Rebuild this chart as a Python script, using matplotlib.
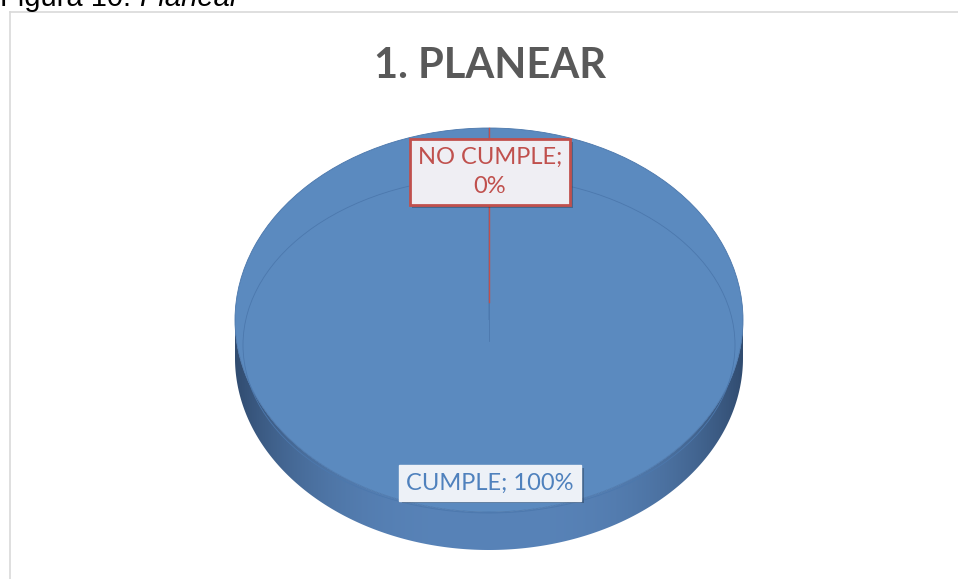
import numpy as np
import matplotlib
matplotlib.use("Agg")
import matplotlib.pyplot as plt
from matplotlib.patches import Ellipse, Polygon
import matplotlib.patheffects as pe

# Chart data
labels = ["CUMPLE", "NO CUMPLE"]
values = [100, 0]
title = "1. PLANEAR"
caption_plain = "Figura 10: "
caption_italic = "Planear"

# Colours
top_color = "#5B8ABF"
slice_colors = [top_color, "#C0504D"]
label_text_colors = ["#4F81BD", "#C0504D"]

W, H = 958, 579
fig = plt.figure(figsize=(W / 100, H / 100), dpi=100)

# Outer frame of the chart area (only top and left edges visible in the crop)
fig.add_artist(plt.Line2D([10 / W, 1], [1 - 12 / H, 1 - 12 / H], color="#d9d9d9", lw=1.2))
fig.add_artist(plt.Line2D([10 / W, 10 / W], [0, 1 - 12 / H], color="#d9d9d9", lw=1.2))

# Caption above the chart (cut off at the top, as in the source)
cap = fig.text(0.0, 1 - 6 / H, caption_plain, fontsize=21, family="Liberation Sans",
               va="baseline", ha="left", color="black")
fig.canvas.draw()
bb = cap.get_window_extent()
fig.text(bb.x1 / W, 1 - 6 / H, caption_italic, fontsize=21, family="Liberation Sans",
         style="italic", va="baseline", ha="left", color="black")

# Title
fig.text(490 / W, 1 - 78 / H, title, fontsize=30, family="Lato", weight="bold",
         color="#595959", ha="center", va="baseline")

# Pie axes: 1 data unit = 254 px wide, 192 px tall -> elliptical (3D-looking) pie
rx, ry = 254, 192
cx, cy = 489, 579 - 320
ax = fig.add_axes([(cx - 1.3 * rx) / W, (cy - 1.3 * ry) / H, 2.6 * rx / W, 2.6 * ry / H])

depth = 38 / ry

# Side of the cylinder: band between the lower half of the top face and the shifted one
t = np.linspace(np.pi, 2 * np.pi, 300)
upper = np.column_stack([np.cos(t), np.sin(t)])
lower = np.column_stack([np.cos(t[::-1]), np.sin(t[::-1]) - depth])
side = Polygon(np.vstack([upper, lower]), closed=True, facecolor="none", edgecolor="none")
ax.add_patch(side)
gx = np.linspace(-1, 1, 400)
shade = np.abs(gx) ** 3
c_mid = np.array([0x58, 0x83, 0xB8]) / 255
c_edge = np.array([0x31, 0x4C, 0x70]) / 255
grad = c_mid[None, :] * (1 - shade[:, None]) + c_edge[None, :] * shade[:, None]
img = ax.imshow(grad[None, :, :], extent=[-1, 1, -1 - depth, 0], aspect="auto",
                zorder=1, interpolation="bilinear")
img.set_clip_path(side)

# Top face drawn from the data
wedges, _ = ax.pie(values, colors=slice_colors, startangle=90, counterclock=False,
                   radius=1, center=(0, 0),
                   wedgeprops=dict(edgecolor="#4A76AB", linewidth=0.6))
for w in wedges:
    w.set_zorder(2)

# Faint bevel ring on the top face
ax.add_patch(Ellipse((0, -25 / ry), 2 * 246 / rx, 2 * 168 / ry, fill=False,
                     edgecolor="#4C78AD", lw=0.6, zorder=3))
ax.plot([0, 0], [0.094, -0.11], color="#4C78AD", lw=0.6, zorder=3)

# Leader line of the 0 % slice
ax.plot([0, 0], [1.0, 0.094], color="#C0504D", lw=1.0, zorder=4)

ax.set_aspect("auto")
ax.set_xlim(-1.3, 1.3)
ax.set_ylim(-1.3, 1.3)
ax.axis("off")

shadow = [pe.withSimplePatchShadow(offset=(2, -2), shadow_rgbFace="black", alpha=0.25)]

# Data labels
lbl_pos = [((490 - cx) / rx, (320 - 483) / ry), ((490 - cx) / rx, (320 - 172) / ry)]
for i, (name, val) in enumerate(zip(labels, values)):
    if i == 0:
        txt = f"{name}; {val}%"
        box = dict(boxstyle="square,pad=0.3", facecolor="#EDF1F7", edgecolor="#EDF1F7")
    else:
        txt = f"{name};\n{val}%"
        box = dict(boxstyle="square,pad=0.35", facecolor="#EFEEF3", edgecolor="#C0504D", lw=2)
    t_ = ax.text(lbl_pos[i][0], lbl_pos[i][1], txt, ha="center", va="center",
                 fontsize=17, family="Lato", color=label_text_colors[i],
                 linespacing=1.45, bbox=box, zorder=5)
    t_.get_bbox_patch().set_path_effects(shadow)

fig.savefig("out.png", dpi=100)
